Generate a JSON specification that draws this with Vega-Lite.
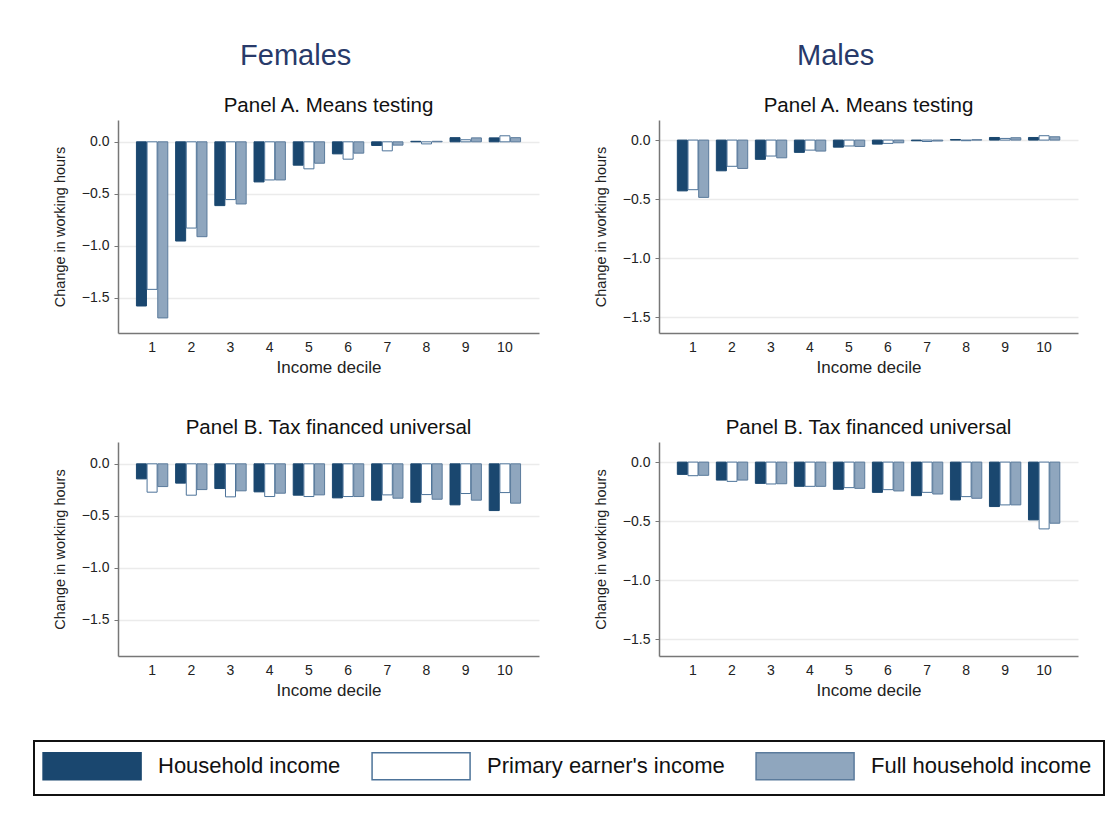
{
"$schema":"https://vega.github.io/schema/vega-lite/v6.json",
"background":"white",
"padding":{"left":33,"top":41,"right":13,"bottom":23},
"data":{"values":[
{"sex":"Females","panel":"A","decile":1,"measure":"Household income","value":-1.58},
{"sex":"Females","panel":"A","decile":1,"measure":"Primary earner's income","value":-1.42},
{"sex":"Females","panel":"A","decile":1,"measure":"Full household income","value":-1.695},
{"sex":"Females","panel":"A","decile":2,"measure":"Household income","value":-0.955},
{"sex":"Females","panel":"A","decile":2,"measure":"Primary earner's income","value":-0.83},
{"sex":"Females","panel":"A","decile":2,"measure":"Full household income","value":-0.913},
{"sex":"Females","panel":"A","decile":3,"measure":"Household income","value":-0.614},
{"sex":"Females","panel":"A","decile":3,"measure":"Primary earner's income","value":-0.556},
{"sex":"Females","panel":"A","decile":3,"measure":"Full household income","value":-0.598},
{"sex":"Females","panel":"A","decile":4,"measure":"Household income","value":-0.386},
{"sex":"Females","panel":"A","decile":4,"measure":"Primary earner's income","value":-0.367},
{"sex":"Females","panel":"A","decile":4,"measure":"Full household income","value":-0.367},
{"sex":"Females","panel":"A","decile":5,"measure":"Household income","value":-0.225},
{"sex":"Females","panel":"A","decile":5,"measure":"Primary earner's income","value":-0.26},
{"sex":"Females","panel":"A","decile":5,"measure":"Full household income","value":-0.206},
{"sex":"Females","panel":"A","decile":6,"measure":"Household income","value":-0.116},
{"sex":"Females","panel":"A","decile":6,"measure":"Primary earner's income","value":-0.167},
{"sex":"Females","panel":"A","decile":6,"measure":"Full household income","value":-0.109},
{"sex":"Females","panel":"A","decile":7,"measure":"Household income","value":-0.035},
{"sex":"Females","panel":"A","decile":7,"measure":"Primary earner's income","value":-0.087},
{"sex":"Females","panel":"A","decile":7,"measure":"Full household income","value":-0.032},
{"sex":"Females","panel":"A","decile":8,"measure":"Household income","value":0.005},
{"sex":"Females","panel":"A","decile":8,"measure":"Primary earner's income","value":-0.02},
{"sex":"Females","panel":"A","decile":8,"measure":"Full household income","value":0.005},
{"sex":"Females","panel":"A","decile":9,"measure":"Household income","value":0.04},
{"sex":"Females","panel":"A","decile":9,"measure":"Primary earner's income","value":0.02},
{"sex":"Females","panel":"A","decile":9,"measure":"Full household income","value":0.038},
{"sex":"Females","panel":"A","decile":10,"measure":"Household income","value":0.038},
{"sex":"Females","panel":"A","decile":10,"measure":"Primary earner's income","value":0.058},
{"sex":"Females","panel":"A","decile":10,"measure":"Full household income","value":0.04},
{"sex":"Males","panel":"A","decile":1,"measure":"Household income","value":-0.43},
{"sex":"Males","panel":"A","decile":1,"measure":"Primary earner's income","value":-0.42},
{"sex":"Males","panel":"A","decile":1,"measure":"Full household income","value":-0.485},
{"sex":"Males","panel":"A","decile":2,"measure":"Household income","value":-0.26},
{"sex":"Males","panel":"A","decile":2,"measure":"Primary earner's income","value":-0.222},
{"sex":"Males","panel":"A","decile":2,"measure":"Full household income","value":-0.24},
{"sex":"Males","panel":"A","decile":3,"measure":"Household income","value":-0.163},
{"sex":"Males","panel":"A","decile":3,"measure":"Primary earner's income","value":-0.135},
{"sex":"Males","panel":"A","decile":3,"measure":"Full household income","value":-0.15},
{"sex":"Males","panel":"A","decile":4,"measure":"Household income","value":-0.104},
{"sex":"Males","panel":"A","decile":4,"measure":"Primary earner's income","value":-0.085},
{"sex":"Males","panel":"A","decile":4,"measure":"Full household income","value":-0.093},
{"sex":"Males","panel":"A","decile":5,"measure":"Household income","value":-0.06},
{"sex":"Males","panel":"A","decile":5,"measure":"Primary earner's income","value":-0.05},
{"sex":"Males","panel":"A","decile":5,"measure":"Full household income","value":-0.054},
{"sex":"Males","panel":"A","decile":6,"measure":"Household income","value":-0.034},
{"sex":"Males","panel":"A","decile":6,"measure":"Primary earner's income","value":-0.028},
{"sex":"Males","panel":"A","decile":6,"measure":"Full household income","value":-0.023},
{"sex":"Males","panel":"A","decile":7,"measure":"Household income","value":-0.006},
{"sex":"Males","panel":"A","decile":7,"measure":"Primary earner's income","value":-0.012},
{"sex":"Males","panel":"A","decile":7,"measure":"Full household income","value":-0.008},
{"sex":"Males","panel":"A","decile":8,"measure":"Household income","value":0.005},
{"sex":"Males","panel":"A","decile":8,"measure":"Primary earner's income","value":-0.005},
{"sex":"Males","panel":"A","decile":8,"measure":"Full household income","value":0.003},
{"sex":"Males","panel":"A","decile":9,"measure":"Household income","value":0.022},
{"sex":"Males","panel":"A","decile":9,"measure":"Primary earner's income","value":0.014},
{"sex":"Males","panel":"A","decile":9,"measure":"Full household income","value":0.02},
{"sex":"Males","panel":"A","decile":10,"measure":"Household income","value":0.022},
{"sex":"Males","panel":"A","decile":10,"measure":"Primary earner's income","value":0.037},
{"sex":"Males","panel":"A","decile":10,"measure":"Full household income","value":0.028},
{"sex":"Females","panel":"B","decile":1,"measure":"Household income","value":-0.145},
{"sex":"Females","panel":"B","decile":1,"measure":"Primary earner's income","value":-0.273},
{"sex":"Females","panel":"B","decile":1,"measure":"Full household income","value":-0.219},
{"sex":"Females","panel":"B","decile":2,"measure":"Household income","value":-0.186},
{"sex":"Females","panel":"B","decile":2,"measure":"Primary earner's income","value":-0.302},
{"sex":"Females","panel":"B","decile":2,"measure":"Full household income","value":-0.248},
{"sex":"Females","panel":"B","decile":3,"measure":"Household income","value":-0.238},
{"sex":"Females","panel":"B","decile":3,"measure":"Primary earner's income","value":-0.318},
{"sex":"Females","panel":"B","decile":3,"measure":"Full household income","value":-0.26},
{"sex":"Females","panel":"B","decile":4,"measure":"Household income","value":-0.27},
{"sex":"Females","panel":"B","decile":4,"measure":"Primary earner's income","value":-0.315},
{"sex":"Females","panel":"B","decile":4,"measure":"Full household income","value":-0.283},
{"sex":"Females","panel":"B","decile":5,"measure":"Household income","value":-0.302},
{"sex":"Females","panel":"B","decile":5,"measure":"Primary earner's income","value":-0.315},
{"sex":"Females","panel":"B","decile":5,"measure":"Full household income","value":-0.299},
{"sex":"Females","panel":"B","decile":6,"measure":"Household income","value":-0.328},
{"sex":"Females","panel":"B","decile":6,"measure":"Primary earner's income","value":-0.315},
{"sex":"Females","panel":"B","decile":6,"measure":"Full household income","value":-0.315},
{"sex":"Females","panel":"B","decile":7,"measure":"Household income","value":-0.35},
{"sex":"Females","panel":"B","decile":7,"measure":"Primary earner's income","value":-0.299},
{"sex":"Females","panel":"B","decile":7,"measure":"Full household income","value":-0.331},
{"sex":"Females","panel":"B","decile":8,"measure":"Household income","value":-0.37},
{"sex":"Females","panel":"B","decile":8,"measure":"Primary earner's income","value":-0.296},
{"sex":"Females","panel":"B","decile":8,"measure":"Full household income","value":-0.341},
{"sex":"Females","panel":"B","decile":9,"measure":"Household income","value":-0.395},
{"sex":"Females","panel":"B","decile":9,"measure":"Primary earner's income","value":-0.286},
{"sex":"Females","panel":"B","decile":9,"measure":"Full household income","value":-0.35},
{"sex":"Females","panel":"B","decile":10,"measure":"Household income","value":-0.45},
{"sex":"Females","panel":"B","decile":10,"measure":"Primary earner's income","value":-0.277},
{"sex":"Females","panel":"B","decile":10,"measure":"Full household income","value":-0.379},
{"sex":"Males","panel":"B","decile":1,"measure":"Household income","value":-0.104},
{"sex":"Males","panel":"B","decile":1,"measure":"Primary earner's income","value":-0.115},
{"sex":"Males","panel":"B","decile":1,"measure":"Full household income","value":-0.112},
{"sex":"Males","panel":"B","decile":2,"measure":"Household income","value":-0.152},
{"sex":"Males","panel":"B","decile":2,"measure":"Primary earner's income","value":-0.163},
{"sex":"Males","panel":"B","decile":2,"measure":"Full household income","value":-0.152},
{"sex":"Males","panel":"B","decile":3,"measure":"Household income","value":-0.18},
{"sex":"Males","panel":"B","decile":3,"measure":"Primary earner's income","value":-0.185},
{"sex":"Males","panel":"B","decile":3,"measure":"Full household income","value":-0.183},
{"sex":"Males","panel":"B","decile":4,"measure":"Household income","value":-0.205},
{"sex":"Males","panel":"B","decile":4,"measure":"Primary earner's income","value":-0.205},
{"sex":"Males","panel":"B","decile":4,"measure":"Full household income","value":-0.205},
{"sex":"Males","panel":"B","decile":5,"measure":"Household income","value":-0.23},
{"sex":"Males","panel":"B","decile":5,"measure":"Primary earner's income","value":-0.216},
{"sex":"Males","panel":"B","decile":5,"measure":"Full household income","value":-0.222},
{"sex":"Males","panel":"B","decile":6,"measure":"Household income","value":-0.256},
{"sex":"Males","panel":"B","decile":6,"measure":"Primary earner's income","value":-0.233},
{"sex":"Males","panel":"B","decile":6,"measure":"Full household income","value":-0.244},
{"sex":"Males","panel":"B","decile":7,"measure":"Household income","value":-0.284},
{"sex":"Males","panel":"B","decile":7,"measure":"Primary earner's income","value":-0.256},
{"sex":"Males","panel":"B","decile":7,"measure":"Full household income","value":-0.27},
{"sex":"Males","panel":"B","decile":8,"measure":"Household income","value":-0.32},
{"sex":"Males","panel":"B","decile":8,"measure":"Primary earner's income","value":-0.292},
{"sex":"Males","panel":"B","decile":8,"measure":"Full household income","value":-0.306},
{"sex":"Males","panel":"B","decile":9,"measure":"Household income","value":-0.376},
{"sex":"Males","panel":"B","decile":9,"measure":"Primary earner's income","value":-0.362},
{"sex":"Males","panel":"B","decile":9,"measure":"Full household income","value":-0.362},
{"sex":"Males","panel":"B","decile":10,"measure":"Household income","value":-0.489},
{"sex":"Males","panel":"B","decile":10,"measure":"Primary earner's income","value":-0.565},
{"sex":"Males","panel":"B","decile":10,"measure":"Full household income","value":-0.517}
]},
"config":{
 "font":"Liberation Sans",
 "view":{"stroke":null},
 "axis":{"labelFont":"Liberation Sans","labelFontSize":14,"labelColor":"#222222","titleFont":"Liberation Sans","titleFontWeight":"normal","titleColor":"#222222","domainColor":"#777777","domainWidth":1.5,"tickColor":"#777777"},
 "axisX":{"labelAngle":0,"ticks":false,"labelPadding":7,"titleFontSize":17,"titlePadding":5,"grid":false},
 "axisY":{"tickSize":4,"labelPadding":5,"titleFontSize":14.5,"titlePadding":14,"gridColor":"#ebebeb","gridWidth":1.5},
 "title":{"fontSize":20.5,"fontWeight":"normal","color":"#111111","offset":4,"anchor":"middle","frame":"group","font":"Liberation Sans"},
 "legend":{"orient":"none","legendX":-84,"legendY":621,"direction":"horizontal","columns":3,"symbolType":"M-1.3,-1.102H6.7V1.102H-1.3Z","symbolSize":600.25,"symbolStrokeWidth":1.5,"labelFontSize":22,"labelColor":"#111111","labelFont":"Liberation Sans","labelOffset":86,"columnPadding":28,"padding":12,"strokeColor":"#111111","strokeWidth":2,"labelLimit":500}
},
"spacing":54,
"hconcat":[
 {"title":{"text":"Females","fontSize":29,"color":"#283a6a","offset":25,"frame":"bounds"},
  "spacing":42,
  "vconcat":[
   {"title":"Panel A. Means testing","width":421,"height":213,"mark":{"type":"bar","strokeWidth":1},
    "transform":[{"filter":"datum.sex === 'Females' && datum.panel === 'A'"}],
    "encoding":{
     "x":{"field":"decile","type":"ordinal","scale":{"paddingInner":0.2,"paddingOuter":0.47},"axis":{"title":"Income decile"}},
     "xOffset":{"field":"measure","type":"nominal","sort":["Household income","Primary earner's income","Full household income"],"scale":{"paddingInner":0.06}},
     "y":{"field":"value","type":"quantitative","scale":{"domain":[-1.84,0.21],"nice":false},"axis":{"values":[0,-0.5,-1,-1.5],"format":".1f","title":"Change in working hours"}},
     "y2":{"datum":0},
     "fill":{"field":"measure","type":"nominal","scale":{"domain":["Household income","Primary earner's income","Full household income"],"range":["#1a476f","#ffffff","#8fa6be"]},"legend":{"title":null}},
     "stroke":{"field":"measure","type":"nominal","scale":{"domain":["Household income","Primary earner's income","Full household income"],"range":["#1a476f","#4d7399","#5b7b9c"]},"legend":{"title":null}}
    }},
   {"title":"Panel B. Tax financed universal","width":421,"height":214,"mark":{"type":"bar","strokeWidth":1},
    "transform":[{"filter":"datum.sex === 'Females' && datum.panel === 'B'"}],
    "encoding":{
     "x":{"field":"decile","type":"ordinal","scale":{"paddingInner":0.2,"paddingOuter":0.47},"axis":{"title":"Income decile"}},
     "xOffset":{"field":"measure","type":"nominal","sort":["Household income","Primary earner's income","Full household income"],"scale":{"paddingInner":0.06}},
     "y":{"field":"value","type":"quantitative","scale":{"domain":[-1.85,0.21],"nice":false},"axis":{"values":[0,-0.5,-1,-1.5],"format":".1f","title":"Change in working hours"}},
     "y2":{"datum":0},
     "fill":{"field":"measure","type":"nominal","scale":{"domain":["Household income","Primary earner's income","Full household income"],"range":["#1a476f","#ffffff","#8fa6be"]},"legend":{"title":null}},
     "stroke":{"field":"measure","type":"nominal","scale":{"domain":["Household income","Primary earner's income","Full household income"],"range":["#1a476f","#4d7399","#5b7b9c"]},"legend":{"title":null}}
    }}
  ]},
 {"title":{"text":"Males","fontSize":29,"color":"#283a6a","offset":25,"frame":"bounds"},
  "spacing":42,
  "vconcat":[
   {"title":"Panel A. Means testing","width":419,"height":213,"mark":{"type":"bar","strokeWidth":1},
    "transform":[{"filter":"datum.sex === 'Males' && datum.panel === 'A'"}],
    "encoding":{
     "x":{"field":"decile","type":"ordinal","scale":{"paddingInner":0.2,"paddingOuter":0.47},"axis":{"title":"Income decile"}},
     "xOffset":{"field":"measure","type":"nominal","sort":["Household income","Primary earner's income","Full household income"],"scale":{"paddingInner":0.06}},
     "y":{"field":"value","type":"quantitative","scale":{"domain":[-1.633,0.17],"nice":false},"axis":{"values":[0,-0.5,-1,-1.5],"format":".1f","title":"Change in working hours"}},
     "y2":{"datum":0},
     "fill":{"field":"measure","type":"nominal","scale":{"domain":["Household income","Primary earner's income","Full household income"],"range":["#1a476f","#ffffff","#8fa6be"]},"legend":{"title":null}},
     "stroke":{"field":"measure","type":"nominal","scale":{"domain":["Household income","Primary earner's income","Full household income"],"range":["#1a476f","#4d7399","#5b7b9c"]},"legend":{"title":null}}
    }},
   {"title":"Panel B. Tax financed universal","width":419,"height":214,"mark":{"type":"bar","strokeWidth":1},
    "transform":[{"filter":"datum.sex === 'Males' && datum.panel === 'B'"}],
    "encoding":{
     "x":{"field":"decile","type":"ordinal","scale":{"paddingInner":0.2,"paddingOuter":0.47},"axis":{"title":"Income decile"}},
     "xOffset":{"field":"measure","type":"nominal","sort":["Household income","Primary earner's income","Full household income"],"scale":{"paddingInner":0.06}},
     "y":{"field":"value","type":"quantitative","scale":{"domain":[-1.64,0.17],"nice":false},"axis":{"values":[0,-0.5,-1,-1.5],"format":".1f","title":"Change in working hours"}},
     "y2":{"datum":0},
     "fill":{"field":"measure","type":"nominal","scale":{"domain":["Household income","Primary earner's income","Full household income"],"range":["#1a476f","#ffffff","#8fa6be"]},"legend":{"title":null}},
     "stroke":{"field":"measure","type":"nominal","scale":{"domain":["Household income","Primary earner's income","Full household income"],"range":["#1a476f","#4d7399","#5b7b9c"]},"legend":{"title":null}}
    }}
  ]}
]
}
